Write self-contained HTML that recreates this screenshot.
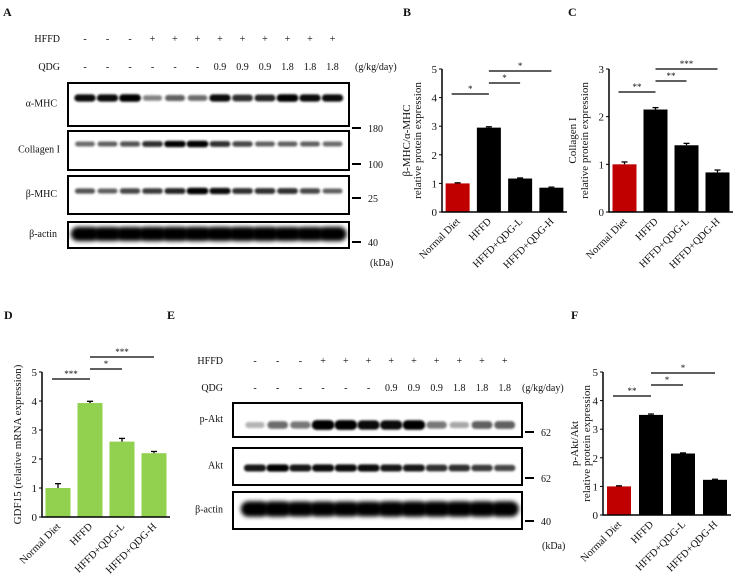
<!DOCTYPE html>
<html><head><meta charset="utf-8">
<style>
html,body{margin:0;padding:0;background:#fff;}
svg{display:block;font-family:"Liberation Serif",serif;}
</style></head>
<body>
<svg id="fig" width="738" height="577" viewBox="0 0 738 577">
<defs>
<filter id="blur1" x="-50%" y="-200%" width="200%" height="500%"><feGaussianBlur stdDeviation="1.1"/></filter>
<filter id="blur2" x="-50%" y="-200%" width="200%" height="500%"><feGaussianBlur stdDeviation="2.2"/></filter>
</defs>
</svg>
<script>
// ---- data ----
const categories = ["Normal Diet","HFFD","HFFD+QDG-L","HFFD+QDG-H"];
const bValues = [1.0, 2.95, 1.17, 0.85];
const bErrors = [0.02, 0.03, 0.02, 0.02];
const cValues = [1.0, 2.15, 1.4, 0.83];
const cErrors = [0.05, 0.04, 0.04, 0.05];
const dValues = [1.0, 3.93, 2.6, 2.2];
const dErrors = [0.15, 0.06, 0.11, 0.06];
const fValues = [1.0, 3.5, 2.15, 1.23];
const fErrors = [0.02, 0.03, 0.02, 0.02];
const ticks5 = [0,1,2,3,4,5];
const ticks3 = [0,1,2,3];
const bSig = [[0,1,"*"],[1,2,"*"],[1,3,"*"]];
const cSig = [[0,1,"**"],[1,2,"**"],[1,3,"***"]];
const dSig = [[0,1,"***"],[1,2,"*"],[1,3,"***"]];
const fSig = [[0,1,"**"],[1,2,"*"],[1,3,"*"]];
const hffdRow = ["-","-","-","+","+","+","+","+","+","+","+","+"];
const qdgRow = ["-","-","-","-","-","-","0.9","0.9","0.9","1.8","1.8","1.8"];
// band intensities (0-1) per lane
const aMHC = [0.85,0.85,0.95,0.35,0.5,0.45,0.85,0.7,0.75,0.95,0.85,0.85];
const collagen = [0.45,0.5,0.55,0.7,0.9,0.95,0.7,0.6,0.5,0.5,0.5,0.45];
const bMHC = [0.55,0.5,0.6,0.65,0.75,0.95,0.85,0.7,0.7,0.7,0.6,0.5];
const actinA = [1,0.95,0.95,1,1,1,1,1,1,0.95,0.95,1];
const pAkt = [0.15,0.45,0.4,0.95,0.95,0.85,0.85,0.9,0.4,0.2,0.5,0.5];
const akt = [0.8,0.9,0.8,0.85,0.85,0.85,0.8,0.8,0.7,0.7,0.65,0.6];
const actinE = [1,1,0.95,0.95,0.95,0.95,1,1,1,1,1,1];

const NS="http://www.w3.org/2000/svg";
const svg=document.getElementById('fig');
function el(tag,attrs,parent){const e=document.createElementNS(NS,tag);for(const k in attrs)e.setAttribute(k,attrs[k]);(parent||svg).appendChild(e);return e;}
function txt(x,y,s,size,anchor,parent,extra){const t=el('text',Object.assign({x:x,y:y,'font-size':size,'text-anchor':anchor||'start',fill:'#111'},extra||{}),parent);t.textContent=s;return t;}

function panelLabel(x,y,s){const t=txt(x,y,s,12,'start',null,{'font-weight':'bold'});

}

function barChart(name,cfg){
  const g=el('g',{});
  
  
  const {left,right,top,bottom,max,ticks,values,errors,colors,sig,ylabel,pad,barW}=cfg;
  const y=v=>bottom-(v/max)*(bottom-top);
  const slot=(right-left-pad*2)/categories.length;
  const xc=i=>left+pad+slot*(i+0.5);
  values.forEach((v,i)=>{
    const r=el('rect',{x:xc(i)-barW/2,y:y(v),width:barW,height:bottom-y(v),fill:colors[i]},g);
    
    
    const ey=y(v+errors[i]);
    el('line',{x1:xc(i),x2:xc(i),y1:y(v),y2:ey,stroke:'#000','stroke-width':1.3},g);
    el('line',{x1:xc(i)-3,x2:xc(i)+3,y1:ey,y2:ey,stroke:'#000','stroke-width':1.3},g);
    const lt=txt(xc(i)+3,bottom+10,categories[i],10.5,'end',g,{transform:`rotate(-45 ${xc(i)+3} ${bottom+10})`});
    
    
  });
  const ax=el('path',{d:`M${left},${top}V${bottom}H${right}`,stroke:'#000','stroke-width':1.5,fill:'none'},g);
  
  
  ticks.forEach(t=>{
    el('line',{x1:left-3,x2:left,y1:y(t),y2:y(t),stroke:'#000','stroke-width':1},g);
    const tt=txt(left-5,y(t)+4,String(t),11,'end',g);
    
    
  });
  sig.forEach((s,k)=>{
    const ly=cfg.sigY[k];
    const x1=xc(s[0])-(s[0]===0?6:0), x2=xc(s[1]);
    el('line',{x1:x1,x2:x2,y1:ly,y2:ly,stroke:'#000','stroke-width':1.2},g);
    const st=txt((x1+x2)/2,ly-2,s[2],9,'middle',g);
    
    
  });
  ylabel.forEach((l,k)=>{
    const lx=cfg.ylx[k], lyc=(top+bottom)/2;
    const yt=txt(lx,lyc,l,11,'middle',g,{transform:`rotate(-90 ${lx} ${lyc})`});
    
    
  });
}

function blotHeader(name,lanes,labelX,hy,qy,unitX){
  const g=el('g',{});
  
  
  txt(labelX,hy+4,'HFFD',10,'end',g);
  txt(labelX,qy+4,'QDG',10,'end',g);
  hffdRow.forEach((s,i)=>txt(lanes(i),hy+4,s,10,'middle',g));
  qdgRow.forEach((s,i)=>txt(lanes(i),qy+4,s,10,'middle',g));
  txt(unitX,qy+4,'(g/kg/day)',10,'start',g);
}

function blot(name,label,x1,x2,y1,y2,lanes,vals,bandH,bandW,by,big,labelX,marker,my){
  const g=el('g',{});
  
  
  el('rect',{x:x1,y:y1,width:x2-x1,height:y2-y1,fill:'#fff'},g);
  vals.forEach((v,i)=>{
    const h=bandH*(0.6+0.5*v), w=bandW*(0.85+0.2*v);
    const b=el('rect',{x:lanes(i)-w/2,y:by-h/2,width:w,height:h,rx:h/2,fill:'#000','fill-opacity':Math.min(1,0.15+v*0.95),filter:big?'url(#blur2)':'url(#blur1)'},g);
    
    
  });
  el('rect',{x:x1,y:y1,width:x2-x1,height:y2-y1,fill:'none',stroke:'#000','stroke-width':2},g);
  txt(labelX,(y1+y2)/2+2,label,10,'end',g);
  el('line',{x1:x2+3,x2:x2+12,y1:my,y2:my,stroke:'#000','stroke-width':2},g);
  txt(x2+19,my+4,marker,10,'start',g);
}

// Panel A
panelLabel(3,16,'A');
const lanesA=i=>85+22.5*i;
blotHeader('header-a',lanesA,60,38,66,355);
blot('blot-alpha-mhc','α-MHC',68,349,83,126,lanesA,aMHC,7,21,98,false,57,'180',128);
blot('blot-collagen','Collagen I',68,349,131,170,lanesA,collagen,6,21,144,false,60,'100',164);
blot('blot-beta-mhc','β-MHC',68,349,176,214,lanesA,bMHC,6,21,191,false,57,'25',198);
blot('blot-actin-a','β-actin',68,349,222,248,lanesA,actinA,13,27,234,true,57,'40',242);
txt(370,266,'(kDa)',10,'start');

// Panel B
panelLabel(403,16,'B');
barChart('chart-b',{left:442,right:567,top:69,bottom:212,max:5,ticks:ticks5,values:bValues,errors:bErrors,colors:['#c00000','#000','#000','#000'],sig:bSig,sigY:[94,83,71],ylabel:['β-MHC/α-MHC','relative protein expression'],ylx:[410,421],pad:0,barW:24});
// Panel C
panelLabel(568,16,'C');
barChart('chart-c',{left:609,right:733,top:69,bottom:212,max:3,ticks:ticks3,values:cValues,errors:cErrors,colors:['#c00000','#000','#000','#000'],sig:cSig,sigY:[92,81,69],ylabel:['Collagen I','relative protein expression'],ylx:[576,588],pad:0,barW:24});
// Panel D
panelLabel(4,319,'D');
barChart('chart-d',{left:42,right:170,top:372,bottom:517,max:5,ticks:ticks5,values:dValues,errors:dErrors,colors:['#92d050','#92d050','#92d050','#92d050'],sig:dSig,sigY:[379,369,357],ylabel:['GDF15 (relative mRNA expression)'],ylx:[21],pad:0,barW:25});

// Panel E
panelLabel(167,319,'E');
const lanesE=i=>255+22.7*i;
blotHeader('header-e',lanesE,223,360,387,522);
blot('blot-p-akt','p-Akt',233,522,403,437,lanesE,pAkt,9,22,425,false,223,'62',432);
blot('blot-akt','Akt',233,522,448,485,lanesE,akt,7,22,468,false,223,'62',478);
blot('blot-actin-e','β-actin',233,522,492,529,lanesE,actinE,14,27,509,true,223,'40',521);
txt(542,549,'(kDa)',10,'start');

// Panel F
panelLabel(571,319,'F');
barChart('chart-f',{left:603,right:731,top:372,bottom:515,max:5,ticks:ticks5,values:fValues,errors:fErrors,colors:['#c00000','#000','#000','#000'],sig:fSig,sigY:[396,385,373],ylabel:['p-Akt/Akt','relative protein expression'],ylx:[578,590],pad:0,barW:24});
</script>
</body></html>
